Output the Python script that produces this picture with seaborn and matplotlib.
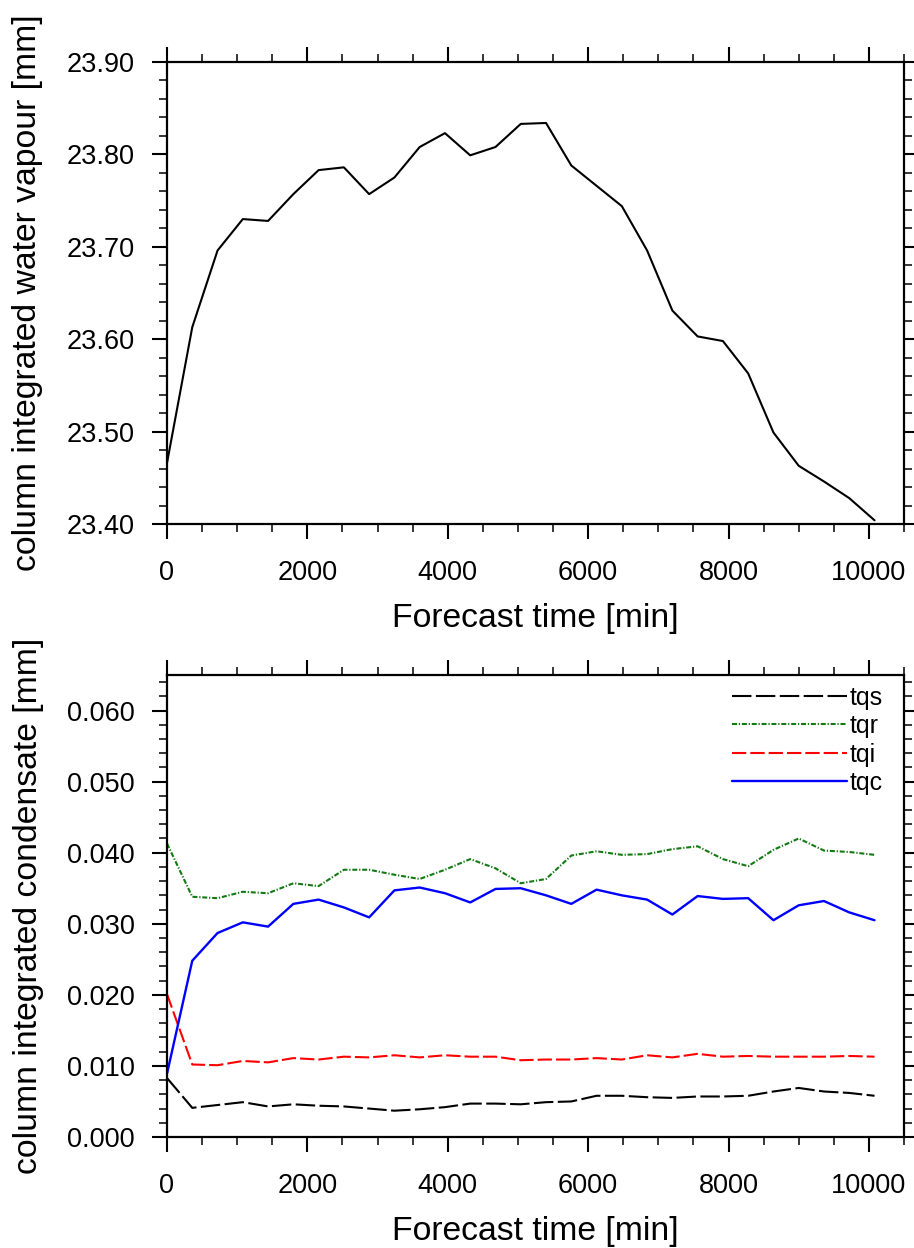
import numpy as np
import pandas as pd
import matplotlib
matplotlib.use("Agg")
import matplotlib.pyplot as plt
from matplotlib.ticker import MultipleLocator, FormatStrFormatter
import seaborn as sns

# ---------------- data ----------------
time_min = [0, 360, 720, 1080, 1440, 1800, 2160, 2520, 2880, 3240, 3600, 3960,
            4320, 4680, 5040, 5400, 5760, 6120, 6480, 6840, 7200, 7560, 7920,
            8280, 8640, 9000, 9360, 9720, 10080]

tqv = [23.466, 23.613, 23.696, 23.730, 23.728, 23.757, 23.783, 23.786, 23.757,
       23.775, 23.808, 23.823, 23.799, 23.808, 23.833, 23.834, 23.788, 23.766,
       23.744, 23.696, 23.631, 23.603, 23.598, 23.563, 23.499, 23.463, 23.446,
       23.428, 23.404]

tqs = [0.0083, 0.0041, 0.0045, 0.0049, 0.0043, 0.0046, 0.0044, 0.0043, 0.0040,
       0.0037, 0.0039, 0.0042, 0.0047, 0.0047, 0.0046, 0.0049, 0.0050, 0.0058,
       0.0058, 0.0056, 0.0055, 0.0057, 0.0057, 0.0058, 0.0064, 0.0069, 0.0064,
       0.0062, 0.0058]

tqr = [0.0413, 0.0338, 0.0336, 0.0345, 0.0343, 0.0357, 0.0353, 0.0376, 0.0376,
       0.0369, 0.0363, 0.0376, 0.0391, 0.0378, 0.0357, 0.0363, 0.0396, 0.0402,
       0.0397, 0.0398, 0.0405, 0.0409, 0.0391, 0.0381, 0.0404, 0.0420, 0.0403,
       0.0401, 0.0397]

tqi = [0.0201, 0.0102, 0.0101, 0.0107, 0.0105, 0.0111, 0.0109, 0.0113, 0.0112,
       0.0115, 0.0112, 0.0115, 0.0113, 0.0113, 0.0108, 0.0109, 0.0109, 0.0111,
       0.0109, 0.0115, 0.0112, 0.0117, 0.0113, 0.0114, 0.0113, 0.0113, 0.0113,
       0.0114, 0.0113]

tqc = [0.0089, 0.0248, 0.0287, 0.0302, 0.0296, 0.0328, 0.0334, 0.0323, 0.0309,
       0.0347, 0.0351, 0.0343, 0.0330, 0.0349, 0.0350, 0.0340, 0.0328, 0.0348,
       0.0340, 0.0334, 0.0313, 0.0339, 0.0335, 0.0336, 0.0305, 0.0326, 0.0332,
       0.0316, 0.0305]

series_names = ["tqs", "tqr", "tqi", "tqc"]
series_vals = [tqs, tqr, tqi, tqc]

# ---------------- style ----------------
sns.set_style("ticks")
plt.rcParams["font.family"] = ["Liberation Sans", "DejaVu Sans"]
plt.rcParams["lines.scale_dashes"] = False
plt.rcParams["text.color"] = "black"
plt.rcParams["axes.labelcolor"] = "black"
plt.rcParams["axes.edgecolor"] = "black"
plt.rcParams["xtick.color"] = "black"
plt.rcParams["ytick.color"] = "black"

colors = {"tqs": "black", "tqr": "#137a13", "tqi": "#ff0000", "tqc": "#0000ff"}
dashes = {"tqs": (14, 3.2), "tqr": (3.6, 1.3, 0.9, 1.3), "tqi": (10.3, 2.9), "tqc": ""}

W, H = 914, 1248
fig = plt.figure(figsize=(W / 100, H / 100), dpi=100)

def ax_rect(l, t, r, b):
    return [l / W, 1 - b / H, (r - l) / W, (b - t) / H]

ax1 = fig.add_axes(ax_rect(167, 62, 904, 524))
ax2 = fig.add_axes(ax_rect(167, 675, 904, 1137))

tick_fs = 19.5
label_fs = 24.3

def style_axes(ax, ymaj, ymin, fmt, ylabel):
    ax.set_xlim(0, 10500)
    ax.xaxis.set_major_locator(MultipleLocator(2000))
    ax.xaxis.set_minor_locator(MultipleLocator(500))
    ax.yaxis.set_major_locator(MultipleLocator(ymaj))
    ax.yaxis.set_minor_locator(MultipleLocator(ymin))
    ax.yaxis.set_major_formatter(FormatStrFormatter(fmt))
    ax.tick_params(which="both", direction="out", top=True, right=True,
                   bottom=True, left=True, labeltop=False, labelright=False,
                   colors="black")
    ax.tick_params(axis="x", which="major", length=11, width=1.5,
                   labelsize=tick_fs, pad=15)
    ax.tick_params(axis="y", which="major", length=11, width=1.5,
                   labelsize=tick_fs, pad=12)
    ax.tick_params(which="minor", length=5.5, width=1.1)
    for s in ax.spines.values():
        s.set_linewidth(1.6)
        s.set_color("black")
        s.set_visible(True)
    ax.set_xlabel("Forecast time [min]", fontsize=label_fs, labelpad=12,
                  color="black")
    ax.set_ylabel(ylabel, fontsize=label_fs, labelpad=17, color="black")

# top panel
df1 = pd.DataFrame({"time": time_min, "tqv": tqv})
sns.lineplot(data=df1, x="time", y="tqv", ax=ax1, color="black", linewidth=1.5)
for ln in ax1.get_lines():
    ln.set_linewidth(1.5)
ax1.set_ylim(23.40, 23.90)
style_axes(ax1, 0.1, 0.02, "%.2f", "column integrated water vapour [mm]")

# bottom panel
df2 = pd.DataFrame({
    "time": np.tile(time_min, len(series_names)),
    "value": np.concatenate(series_vals),
    "var": np.repeat(series_names, len(time_min)),
})
sns.lineplot(data=df2, x="time", y="value", hue="var", style="var",
             hue_order=series_names, style_order=series_names,
             palette=colors, dashes=dashes, ax=ax2, linewidth=1.5, legend=False)
ax2.set_ylim(0, 0.065)
style_axes(ax2, 0.01, 0.002, "%.3f", "column integrated condensate [mm]")

for ln, name in zip(ax2.get_lines(), series_names):
    ln.set_label(name)
    ln.set_linewidth(1.7 if name == "tqc" else 1.5)
leg = ax2.legend(handles=ax2.get_lines()[:4], loc="upper left",
                 bbox_to_anchor=((732 - 167) / 737, 0.977), frameon=False,
                 fontsize=18, handlelength=4.6, handletextpad=0.1,
                 labelspacing=0.18, borderpad=0, borderaxespad=0)

fig.savefig("out.png", dpi=100)
